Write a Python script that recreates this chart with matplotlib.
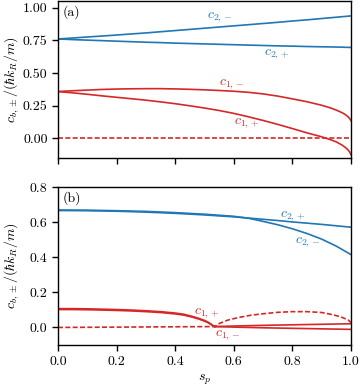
import numpy as np
import matplotlib
matplotlib.use("Agg")
import matplotlib.pyplot as plt

plt.rcParams['font.family'] = 'serif'
plt.rcParams['font.serif'] = ['cmr10', 'DejaVu Serif']
plt.rcParams['mathtext.fontset'] = 'cm'
plt.rcParams['axes.formatter.use_mathtext'] = True
plt.rcParams['font.size'] = 10

BLUE = '#1f77b4'
RED = '#d62728'

# ---------------- panel (a) data ----------------
sp_a = [0, 0.05, 0.1, 0.15, 0.2, 0.25, 0.3, 0.35, 0.4, 0.45, 0.5, 0.55, 0.6,
        0.65, 0.7, 0.75, 0.8, 0.85, 0.9, 0.93, 0.95, 0.97, 0.98, 0.99, 0.995, 1.0]
c2m_a = [0.760, 0.767, 0.775, 0.782, 0.790, 0.798, 0.806, 0.815, 0.824, 0.833,
         0.842, 0.851, 0.860, 0.869, 0.878, 0.887, 0.897, 0.906, 0.916, 0.922,
         0.926, 0.930, 0.932, 0.934, 0.935, 0.936]
c2p_a = [0.760, 0.755, 0.751, 0.747, 0.743, 0.739, 0.735, 0.732, 0.728, 0.725,
         0.722, 0.719, 0.716, 0.713, 0.710, 0.707, 0.705, 0.702, 0.700, 0.699,
         0.698, 0.697, 0.696, 0.696, 0.695, 0.695]
c1m_a = [0.358, 0.364, 0.369, 0.374, 0.377, 0.379, 0.380, 0.380, 0.378, 0.375,
         0.371, 0.366, 0.360, 0.352, 0.340, 0.323, 0.302, 0.280, 0.253, 0.233,
         0.216, 0.196, 0.183, 0.165, 0.153, 0.135]
c1p_a = [0.358, 0.348, 0.337, 0.325, 0.314, 0.303, 0.292, 0.279, 0.265, 0.249,
         0.232, 0.213, 0.191, 0.165, 0.137, 0.107, 0.075, 0.042, 0.012, -0.010,
         -0.027, -0.052, -0.068, -0.088, -0.102, -0.125]
sp_zero_a = [0.0, 1.0]
zero_a = [0.0, 0.0]

# ---------------- panel (b) data ----------------
sp_b = [0, 0.1, 0.2, 0.3, 0.4, 0.5, 0.6, 0.65, 0.7, 0.75, 0.8, 0.85, 0.9, 0.95, 1.0]
c2p_b = [0.666, 0.665, 0.662, 0.657, 0.650, 0.641, 0.630, 0.623, 0.616, 0.609,
         0.601, 0.594, 0.587, 0.579, 0.571]
c2m_b = [0.669, 0.668, 0.665, 0.661, 0.654, 0.645, 0.633, 0.622, 0.604, 0.585,
         0.562, 0.535, 0.503, 0.463, 0.415]

sp_b1 = [0, 0.05, 0.1, 0.15, 0.2, 0.25, 0.3, 0.35, 0.4, 0.43, 0.46, 0.48, 0.50,
         0.51, 0.52, 0.53, 0.535]
c1p_b1 = [0.107, 0.107, 0.106, 0.104, 0.102, 0.099, 0.095, 0.090, 0.082, 0.075,
          0.062, 0.052, 0.040, 0.032, 0.022, 0.010, 0.005]
c1m_b1 = [0.102, 0.102, 0.101, 0.099, 0.097, 0.094, 0.090, 0.085, 0.077, 0.070,
          0.058, 0.048, 0.036, 0.029, 0.019, 0.008, 0.005]

sp_b2 = [0.535, 0.6, 0.7, 0.8, 0.9, 1.0]
c1p_b2 = [0.005, 0.008, 0.012, 0.015, 0.018, 0.021]
c1m_b2 = [0.005, 0.002, -0.002, -0.005, -0.008, -0.011]

sp_dash_b = [0, 0.535, 0.55, 0.58, 0.62, 0.66, 0.70, 0.75, 0.80, 0.85, 0.90,
             0.94, 0.97, 0.99, 1.0]
dash_b = [0.0, 0.005, 0.022, 0.042, 0.058, 0.070, 0.078, 0.086, 0.090, 0.090,
          0.085, 0.072, 0.057, 0.043, 0.028]

xticks = [0.0, 0.2, 0.4, 0.6, 0.8, 1.0]
yticks_a = [0.0, 0.25, 0.5, 0.75, 1.0]
yticks_b = [0.0, 0.2, 0.4, 0.6, 0.8]

fig = plt.figure(figsize=(3.61, 3.89), dpi=100)
L, R = 58 / 361, 351 / 361
ax1 = fig.add_axes([L, 1 - 158 / 389, R - L, 157 / 389])
ax2 = fig.add_axes([L, 1 - 345 / 389, R - L, 158 / 389])

lw = 1.2
dash = (0, (3, 1.4))
ax1.plot(sp_a, c2m_a, color=BLUE, lw=lw)
ax1.plot(sp_a, c2p_a, color=BLUE, lw=lw)
ax1.plot(sp_a, c1m_a, color=RED, lw=lw)
ax1.plot(sp_a, c1p_a, color=RED, lw=lw)
ax1.plot(sp_zero_a, zero_a, color=RED, lw=lw, ls=dash)

ax2.plot(sp_b, c2p_b, color=BLUE, lw=lw)
ax2.plot(sp_b, c2m_b, color=BLUE, lw=lw)
ax2.plot(sp_b1, c1p_b1, color=RED, lw=lw)
ax2.plot(sp_b1, c1m_b1, color=RED, lw=lw)
ax2.plot(sp_b2, c1p_b2, color=RED, lw=lw)
ax2.plot(sp_b2, c1m_b2, color=RED, lw=lw)
ax2.plot(sp_dash_b, dash_b, color=RED, lw=lw, ls=dash)

ax1.set_xlim(0, 1)
ax1.set_ylim(-0.15, 1.05)
ax2.set_xlim(0, 1)
ax2.set_ylim(-0.1, 0.8)
ax1.set_xticks(xticks)
ax1.set_xticklabels([])
ax2.set_xticks(xticks)
ax1.set_yticks(yticks_a)
ax2.set_yticks(yticks_b)
for ax in (ax1, ax2):
    ax.tick_params(direction='out', length=4, width=1, labelsize=10)
    for s in ax.spines.values():
        s.set_linewidth(1)
    ax.set_ylabel(r'$c_{b,\pm}/(\hbar k_R/m)$', fontsize=10)
    ax.yaxis.set_label_coords(-0.125, 0.5)

ax1.yaxis.set_major_formatter(matplotlib.ticker.FormatStrFormatter('%.2f'))
ax2.yaxis.set_major_formatter(matplotlib.ticker.FormatStrFormatter('%.1f'))
ax2.xaxis.set_major_formatter(matplotlib.ticker.FormatStrFormatter('%.1f'))
ax2.set_xlabel(r'$s_p$', fontsize=10)

ax1.text(0.015, 0.975, '(a)', transform=ax1.transAxes, ha='left', va='top')
ax2.text(0.015, 0.975, '(b)', transform=ax2.transAxes, ha='left', va='top')

fs = 10
ax1.text(0.553, 0.924, r'$c_{2,-}$', color=BLUE, fontsize=fs, ha='center', va='center')
ax1.text(0.746, 0.642, r'$c_{2,+}$', color=BLUE, fontsize=fs, ha='center', va='center')
ax1.text(0.594, 0.417, r'$c_{1,-}$', color=RED, fontsize=fs, ha='center', va='center')
ax1.text(0.645, 0.114, r'$c_{1,+}$', color=RED, fontsize=fs, ha='center', va='center')

ax2.text(0.803, 0.632, r'$c_{2,+}$', color=BLUE, fontsize=fs, ha='center', va='center')
ax2.text(0.854, 0.484, r'$c_{2,-}$', color=BLUE, fontsize=fs, ha='center', va='center')
ax2.text(0.507, 0.082, r'$c_{1,+}$', color=RED, fontsize=fs, ha='center', va='center')
ax2.text(0.581, -0.042, r'$c_{1,-}$', color=RED, fontsize=fs, ha='center', va='center')

fig.savefig('out.png', dpi=100)
